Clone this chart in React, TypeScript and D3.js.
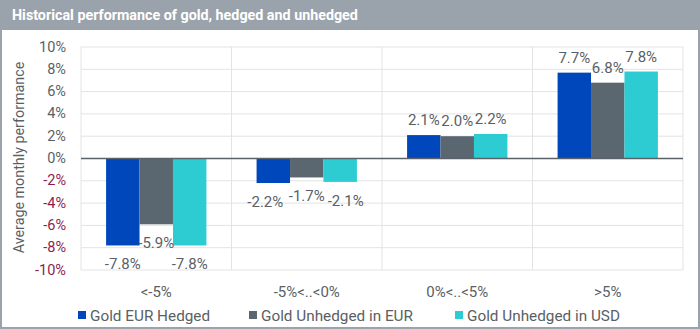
import React from "react";
import * as d3 from "d3";

const categories = ["<-5%", "-5%<..<0%", "0%<..<5%", ">5%"];
const seriesNames = ["Gold EUR Hedged", "Gold Unhedged in EUR", "Gold Unhedged in USD"];
const goldEurHedged = [-7.8, -2.2, 2.1, 7.7];
const goldUnhedgedEur = [-5.9, -1.7, 2.0, 6.8];
const goldUnhedgedUsd = [-7.8, -2.1, 2.2, 7.8];
const yTicks = [-10, -8, -6, -4, -2, 0, 2, 4, 6, 8, 10];
const colors = ["#0047BB", "#5B6770", "#2DCCD3"];

const W = 700;
const H = 329;
const FONT = "Roboto, 'Noto Sans', sans-serif";

// small horizontal nudges for crowded data labels (style only)
const labelNudge: Record<string, number> = { "1-0": -8, "1-2": 5.5 };

export default function App() {
  const series = [goldEurHedged, goldUnhedgedEur, goldUnhedgedUsd];
  const left = 81, right = 683, top = 47, bottom = 270;
  const x = d3.scaleBand<string>().domain(categories).range([left, right]).paddingInner(0).paddingOuter(0);
  const y = d3.scaleLinear().domain([-10, 10]).range([bottom, top]);
  const groupW = x.bandwidth() * (2 / 3);
  const xs = d3.scaleBand<number>().domain([0, 1, 2]).range([0, groupW]).padding(0);
  const labelColor = "#5a5f66";

  return (
    <svg width={W} height={H} style={{ position: "absolute", left: 0, top: 0, display: "block" }} fontFamily={FONT}>
      <rect x={0} y={0} width={W} height={H} fill="#ffffff" />
      <rect x={1} y={1} width={W - 2} height={H - 2} fill="none" stroke="#9aa3ab" strokeWidth={2} />
      <rect x={0} y={0} width={W} height={30} fill="#9aa3ab" />
      <text x={12} y={20} fill="#ffffff" fontSize={14.3} fontWeight="bold">
        Historical performance of gold, hedged and unhedged
      </text>

      {/* gridlines */}
      {yTicks.map((t) => (
        <line key={"g" + t} x1={left} x2={right} y1={y(t)} y2={y(t)} stroke="#e3e3e3" strokeWidth={1} />
      ))}
      {categories.map((c) => (
        <line key={"v" + c} x1={x(c)!} x2={x(c)!} y1={top} y2={bottom} stroke="#e3e3e3" strokeWidth={1} />
      ))}
      <line x1={right} x2={right} y1={top} y2={bottom} stroke="#e3e3e3" strokeWidth={1} />

      {/* bars */}
      {categories.map((c, ci) =>
        series.map((s, si) => {
          const v = s[ci];
          const bx = x(c)! + (x.bandwidth() - groupW) / 2 + xs(si)!;
          const y0 = y(0), y1 = y(v);
          return (
            <rect key={c + si} x={bx} y={Math.min(y0, y1)} width={xs.bandwidth()} height={Math.abs(y1 - y0)} fill={colors[si]} />
          );
        })
      )}
      <line x1={left} x2={right} y1={y(0)} y2={y(0)} stroke="#5a6169" strokeWidth={1.5} />

      {/* data labels */}
      {categories.map((c, ci) =>
        series.map((s, si) => {
          const v = s[ci];
          const cx = x(c)! + (x.bandwidth() - groupW) / 2 + xs(si)! + xs.bandwidth() / 2 + (labelNudge[ci + "-" + si] || 0);
          const cy = v < 0 ? y(v) + 19 : y(v) - 15;
          return (
            <text key={"l" + c + si} x={cx} y={cy} textAnchor="middle" dominantBaseline="central" fontSize={15} fill={labelColor}>
              {v.toFixed(1) + "%"}
            </text>
          );
        })
      )}

      {/* y axis ticks */}
      {yTicks.map((t) => (
        <text key={"t" + t} x={66} y={y(t)} textAnchor="end" dominantBaseline="central" fontSize={14.5} fill={t < 0 ? "#8c1d4f" : labelColor}>
          {t + "%"}
        </text>
      ))}
      <text transform={`translate(19,${(top + bottom) / 2 - 1}) rotate(-90)`} textAnchor="middle" dominantBaseline="central" fontSize={14.3} fill={labelColor}>
        Average monthly performance
      </text>

      {/* category labels */}
      {categories.map((c) => (
        <text key={"c" + c} x={x(c)! + x.bandwidth() / 2} y={292} textAnchor="middle" dominantBaseline="central" fontSize={15} fill={labelColor}>
          {c}
        </text>
      ))}

      {/* legend */}
      {seriesNames.map((n, i) => {
        const lx = [78, 249, 455][i];
        return (
          <g key={"lg" + i}>
            <rect x={lx} y={311} width={8} height={8} fill={colors[i]} />
            <text x={lx + 12} y={315.5} dominantBaseline="central" fontSize={15.3} fill={labelColor}>
              {n}
            </text>
          </g>
        );
      })}
    </svg>
  );
}
